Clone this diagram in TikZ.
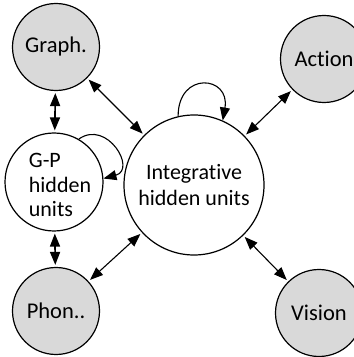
\documentclass[tikz,border=0pt]{standalone}
\usepackage{fontspec}
\setmainfont{Carlito}[Ligatures=NoCommon]
\usepackage{tikz}
\usetikzlibrary{arrows.meta}

\begin{document}
\begin{tikzpicture}[x=1pt, y=1pt,
        io/.style   = {circle, draw, line width=1.2pt, fill=gray!30, minimum size=87pt, inner sep=0pt,
                       font=\fontsize{22.5}{26}\selectfont},
        hid/.style  = {circle, draw, line width=1.2pt, fill=white, inner sep=0pt,
                       font=\fontsize{22}{26}\selectfont},
        link/.style = {{Triangle[length=13pt,width=10pt]}-{Triangle[length=13pt,width=10pt]},
                       line width=1.1pt, shorten <=2pt, shorten >=2pt},
        loop/.style = {-{Triangle[length=13pt,width=10pt]}, line width=1.1pt}
    ]
        \useasboundingbox (0,0) rectangle (354,357);
        \node[io]  (graph)  at (56,310)  {Graph.};
        \node[io]  (action) at (324,298) {Action};
        \node[io]  (phon)   at (56,46)   {Phon..};
        \node[io]  (vision) at (319,44)  {Vision};
        \node[hid, minimum size=98pt,
              label={[align=left, font=\fontsize{22}{24.5}\selectfont, xshift=6pt, yshift=-3pt]center:G-P\\hidden\\units}]
              (gp)  at (54,175) {};
        \node[hid, minimum size=140pt, align=center] (int) at (194,172) {Integrative\\hidden units};
        \draw[link, line width=1.6pt] (graph) -- (gp);
        \draw[link, line width=1.6pt] (gp) -- (phon);
        \draw[link] (graph) -- (int);
        \draw[link] (action) -- (int);
        \draw[link] (int) -- (phon);
        \draw[link] (int) -- (vision);
        \draw[loop] (int.103) to[out=90, in=80, looseness=2.6] (int.66);
        \draw[loop] (gp.60) to[out=35, in=15, looseness=1.9] (gp.4);
    \end{tikzpicture}
\end{document}
